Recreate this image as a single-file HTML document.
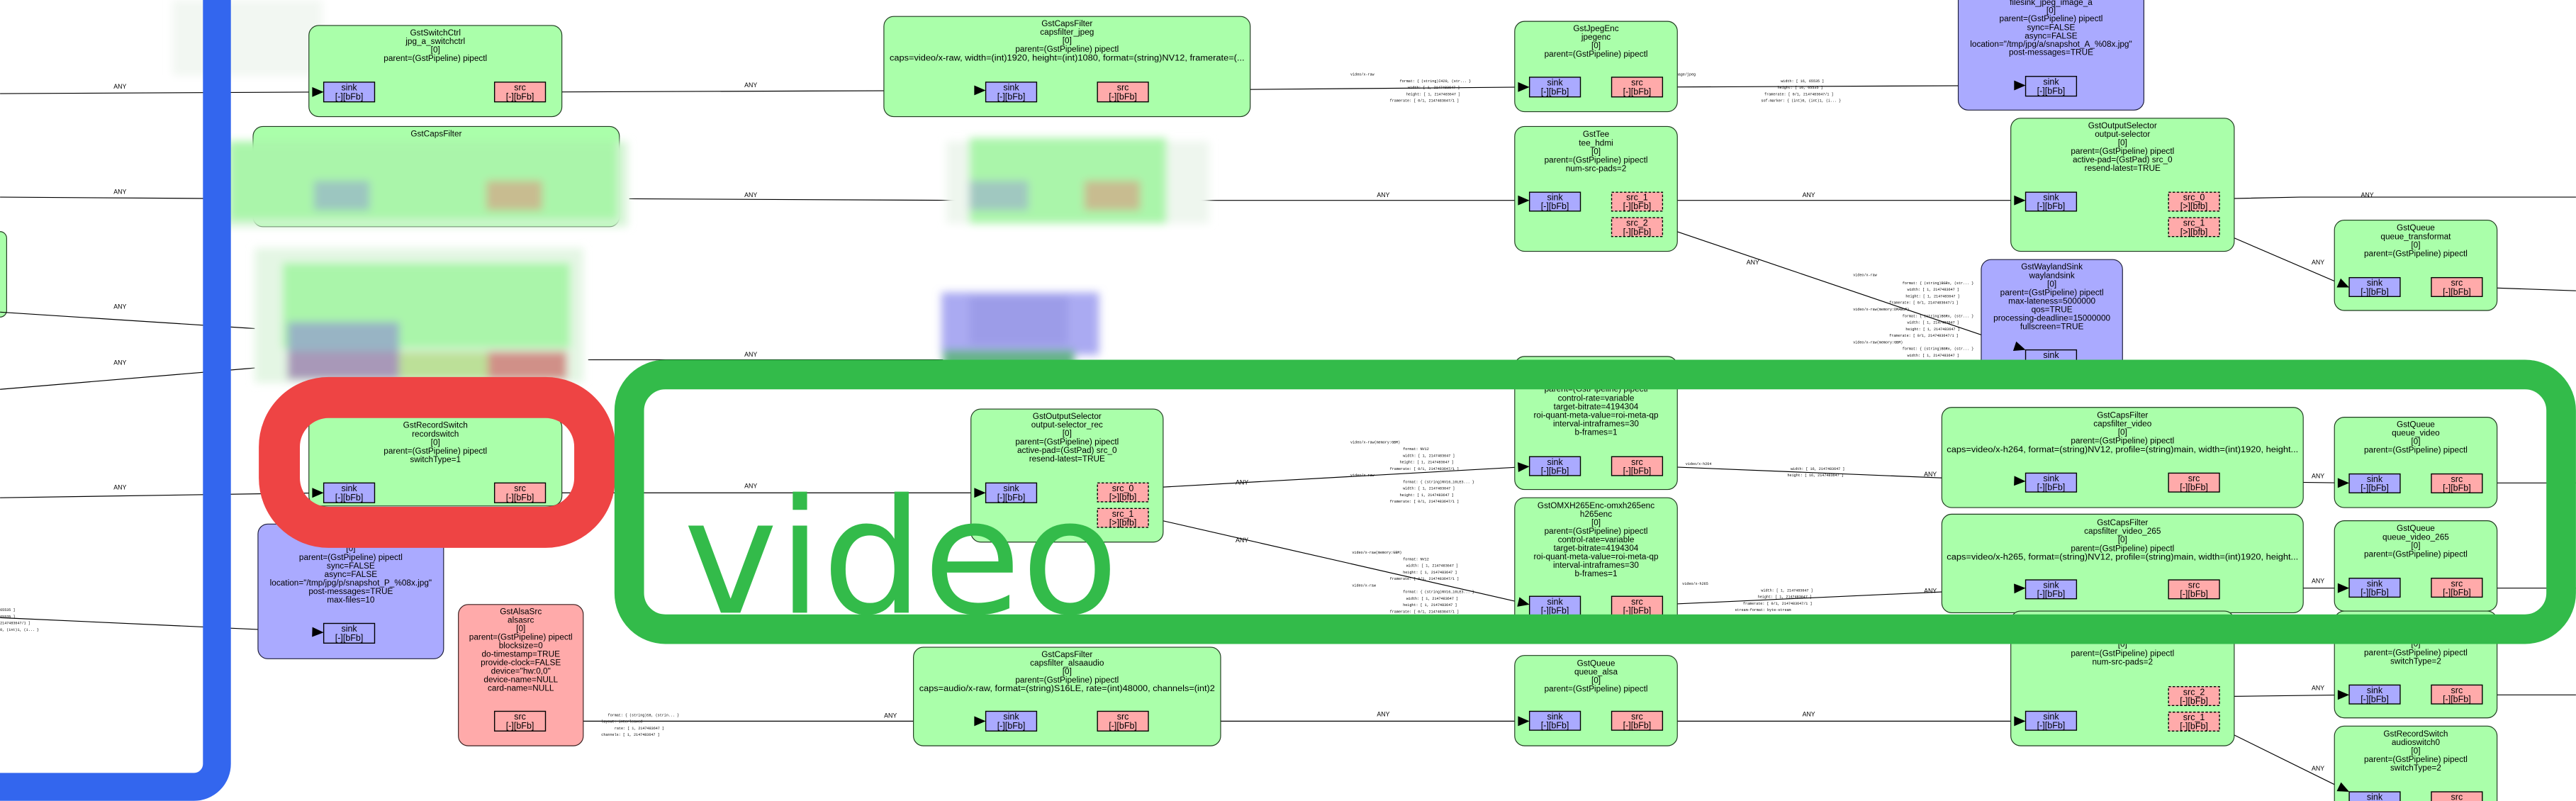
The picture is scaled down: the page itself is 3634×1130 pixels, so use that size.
<!DOCTYPE html>
<html><head><meta charset="utf-8"><style>
html,body{margin:0;padding:0;background:#fff;width:3634px;height:1130px;overflow:hidden}
svg{display:block}
.n{font-family:"Liberation Sans Narrow","Liberation Sans",sans-serif;font-size:5.1px;text-anchor:middle;fill:#000}
.p{font-family:"Liberation Sans Narrow","Liberation Sans",sans-serif;font-size:5.4px;text-anchor:middle;fill:#000}
.a{font-family:"Liberation Sans Narrow","Liberation Sans",sans-serif;font-size:3.8px;text-anchor:middle;fill:#000}
.c{font-family:"Liberation Mono",monospace;font-size:2.2px;fill:#000}
.g{fill:#aaffaa;stroke:#1e3a1e;stroke-width:0.5}
.b{fill:#aaaaff;stroke:#1e1e3a;stroke-width:0.5}
.r{fill:#ffaaaa;stroke:#3a1e1e;stroke-width:0.5}
.sk{fill:#aaaaff;stroke:#000;stroke-width:0.6}
.sr{fill:#ffaaaa;stroke:#000;stroke-width:0.6}
.sd{fill:#ffaaaa;stroke:#000;stroke-width:0.6;stroke-dasharray:1.5,1}
.e{stroke:#000;stroke-width:0.5;fill:none}
.e2{stroke:#000;stroke-width:0.5;fill:none}
</style></head><body>
<svg width="3634" height="1130" viewBox="0 0 1568 487.6" xmlns="http://www.w3.org/2000/svg">
<defs>
<filter id="bl" x="-10%" y="-10%" width="120%" height="120%"><feGaussianBlur stdDeviation="2.5"/></filter>
</defs>

<rect x="-10" y="141" width="14" height="52" rx="4" class="g"/>

<!-- EDGES -->
<path class="e" d="M0,57 L197,56"/><text class="a" x="73" y="54">ANY</text>
<path class="e" d="M332,56 L600,55"/><text class="a" x="457" y="53">ANY</text>
<path class="e" d="M699,55 L931,53"/><text class="a" x="757" y="56">ANY</text>
<path class="e" d="M1012,53 L1233,52"/><text class="a" x="1207" y="54">ANY</text>
<path class="e2" d="M0,120 L154,121"/><text class="a" x="73" y="118">ANY</text>
<path class="e2" d="M383,121 L590,122"/><text class="a" x="457" y="120">ANY</text>
<path class="e" d="M710,122 L931,122"/><text class="a" x="842" y="120">ANY</text>
<path class="e" d="M1012,122 L1233,122"/><text class="a" x="1101" y="120">ANY</text>
<path class="e2" d="M1351,121 L1400,120 L1568,120"/><text class="a" x="1441" y="120">ANY</text>
<path class="e" d="M1351,141 L1430,175"/><text class="a" x="1411" y="161">ANY</text>
<path class="e2" d="M1511,175 L1568,177"/>
<path class="e" d="M1012,138 L1233,213"/><text class="a" x="1067" y="161">ANY</text>
<path class="e2" d="M0,190 L155,200"/><text class="a" x="73" y="188">ANY</text>
<path class="e2" d="M0,237 L155,224"/><text class="a" x="73" y="222">ANY</text>
<path class="e2" d="M358,219 L574,219"/><text class="a" x="457" y="217">ANY</text>
<path class="e" d="M0,303 L197,300"/><text class="a" x="73" y="298">ANY</text>
<path class="e" d="M332,300 L600,300"/><text class="a" x="457" y="297">ANY</text>
<path class="e" d="M699,297 L931,284"/><text class="a" x="756" y="295">ANY</text>
<path class="e" d="M699,315 L931,368"/><text class="a" x="756" y="330">ANY</text>
<path class="e" d="M1012,284 L1233,293"/><text class="a" x="1175" y="290">ANY</text>
<path class="e" d="M1012,368 L1233,358"/><text class="a" x="1175" y="361">ANY</text>
<path class="e" d="M1351,293 L1430,294"/><text class="a" x="1411" y="291">ANY</text>
<path class="e2" d="M1511,294 L1568,294"/>
<path class="e" d="M1351,358 L1430,358"/><text class="a" x="1411" y="355">ANY</text>
<path class="e2" d="M1511,358 L1568,358"/>
<path class="e" d="M0,376 L197,385"/>
<path class="e" d="M332,439 L600,439"/><text class="a" x="542" y="437">ANY</text>
<path class="e" d="M699,439 L931,439"/><text class="a" x="842" y="436">ANY</text>
<path class="e" d="M1012,439 L1233,439"/><text class="a" x="1101" y="436">ANY</text>
<path class="e" d="M1351,424 L1430,423"/><text class="a" x="1411" y="420">ANY</text>
<path class="e2" d="M1511,423 L1568,423"/>
<path class="e" d="M1351,443 L1430,482"/><text class="a" x="1411" y="469">ANY</text>

<!-- caps labels -->
<text class="c" x="822" y="46">video/x-raw</text>
<text class="c" x="852" y="50">format: { (string)I420, (str... }</text>
<text class="c" x="857" y="54">width: [ 1, 2147483647 ]</text>
<text class="c" x="856" y="58">height: [ 1, 2147483647 ]</text>
<text class="c" x="846" y="62">framerate: [ 0/1, 2147483647/1 ]</text>
<text class="c" x="1019" y="46">image/jpeg</text>
<text class="c" x="1084" y="50">width: [ 16, 65535 ]</text>
<text class="c" x="1082" y="54">height: [ 16, 65535 ]</text>
<text class="c" x="1074" y="58">framerate: [ 0/1, 2147483647/1 ]</text>
<text class="c" x="1072" y="62">sof-marker: { (int)0, (int)1, (i... }</text>
<text class="c" x="1128" y="168">video/x-raw</text>
<text class="c" x="1158" y="173">format: { (string)BGRx, (str... }</text>
<text class="c" x="1161" y="177">width: [ 1, 2147483647 ]</text>
<text class="c" x="1160" y="181">height: [ 1, 2147483647 ]</text>
<text class="c" x="1150" y="185">framerate: [ 0/1, 2147483647/1 ]</text>
<text class="c" x="1128" y="189">video/x-raw(memory:DMABuf)</text>
<text class="c" x="1158" y="193">format: { (string)BGRx, (str... }</text>
<text class="c" x="1161" y="197">width: [ 1, 2147483647 ]</text>
<text class="c" x="1160" y="201">height: [ 1, 2147483647 ]</text>
<text class="c" x="1150" y="205">framerate: [ 0/1, 2147483647/1 ]</text>
<text class="c" x="1128" y="209">video/x-raw(memory:GBM)</text>
<text class="c" x="1158" y="213">format: { (string)BGRx, (str... }</text>
<text class="c" x="1161" y="217">width: [ 1, 2147483647 ]</text>
<text class="c" x="822" y="270">video/x-raw(memory:GBM)</text>
<text class="c" x="854" y="274">format: NV12</text>
<text class="c" x="854" y="278">width: [ 1, 2147483647 ]</text>
<text class="c" x="852" y="282">height: [ 1, 2147483647 ]</text>
<text class="c" x="846" y="286">framerate: [ 0/1, 2147483647/1 ]</text>
<text class="c" x="822" y="290">video/x-raw</text>
<text class="c" x="854" y="294">format: { (string)NV16_10LE3... }</text>
<text class="c" x="854" y="298">width: [ 1, 2147483647 ]</text>
<text class="c" x="852" y="302">height: [ 1, 2147483647 ]</text>
<text class="c" x="846" y="306">framerate: [ 0/1, 2147483647/1 ]</text>
<text class="c" x="1026" y="283">video/x-h264</text>
<text class="c" x="1090" y="286">width: [ 16, 2147483647 ]</text>
<text class="c" x="1088" y="290">height: [ 16, 2147483647 ]</text>
<text class="c" x="823" y="337">video/x-raw(memory:GBM)</text>
<text class="c" x="854" y="341">format: NV12</text>
<text class="c" x="856" y="345">width: [ 1, 2147483647 ]</text>
<text class="c" x="854" y="349">height: [ 1, 2147483647 ]</text>
<text class="c" x="846" y="353">framerate: [ 0/1, 2147483647/1 ]</text>
<text class="c" x="823" y="357">video/x-raw</text>
<text class="c" x="854" y="361">format: { (string)NV16_10LE3... }</text>
<text class="c" x="856" y="365">width: [ 1, 2147483647 ]</text>
<text class="c" x="854" y="369">height: [ 1, 2147483647 ]</text>
<text class="c" x="846" y="373">framerate: [ 0/1, 2147483647/1 ]</text>
<text class="c" x="1024" y="356">video/x-h265</text>
<text class="c" x="1072" y="360">width: [ 1, 2147483647 ]</text>
<text class="c" x="1070" y="364">height: [ 1, 2147483647 ]</text>
<text class="c" x="1061" y="368">framerate: [ 0/1, 2147483647/1 ]</text>
<text class="c" x="1056" y="372">stream-format: byte-stream</text>
<text class="c" x="340" y="432">audio/x-raw</text>
<text class="c" x="370" y="436">format: { (string)S8, (strin... }</text>
<text class="c" x="366" y="440">layout: interleaved</text>
<text class="c" x="374" y="444">rate: [ 1, 2147483647 ]</text>
<text class="c" x="366" y="448">channels: [ 1, 2147483647 ]</text>
<text class="c" x="0" y="372">65535 ]</text>
<text class="c" x="0" y="376">65535 ]</text>
<text class="c" x="0" y="380">2147483647/1 ]</text>
<text class="c" x="0" y="384">0, (int)1, (i... }</text>

<!-- NODES -->
<rect x="105" y="0" width="91" height="46" fill="#f2f7f2" filter="url(#bl)"/>

<rect class="g" x="188" y="15.5" width="154" height="55.5" rx="6"/>
<text class="n" x="265" y="21.5">GstSwitchCtrl</text><text class="n" x="265" y="26.8">jpg_a_switchctrl</text><text class="n" x="265" y="32">[0]</text><text class="n" x="265" y="37.2">parent=(GstPipeline) pipectl</text>
<rect class="sk" x="197" y="50" width="31" height="12"/><text class="p" x="212.5" y="55">sink</text><text class="p" x="212.5" y="60.6">[-][bFb]</text>
<rect class="sr" x="301" y="50" width="31" height="12"/><text class="p" x="316.5" y="55">src</text><text class="p" x="316.5" y="60.6">[-][bFb]</text>

<rect class="g" x="538" y="10" width="223" height="61" rx="6"/>
<text class="n" x="649.5" y="16">GstCapsFilter</text><text class="n" x="649.5" y="21.2">capsfilter_jpeg</text><text class="n" x="649.5" y="26.4">[0]</text><text class="n" x="649.5" y="31.6">parent=(GstPipeline) pipectl</text><text class="n" x="649.5" y="36.8" textLength="216" lengthAdjust="spacingAndGlyphs">caps=video/x-raw, width=(int)1920, height=(int)1080, format=(string)NV12, framerate=(...</text>
<rect class="sk" x="600" y="50" width="31" height="12"/><text class="p" x="615.5" y="55">sink</text><text class="p" x="615.5" y="60.6">[-][bFb]</text>
<rect class="sr" x="668" y="50" width="31" height="12"/><text class="p" x="683.5" y="55">src</text><text class="p" x="683.5" y="60.6">[-][bFb]</text>

<rect class="g" x="922" y="13" width="99" height="55" rx="6"/>
<text class="n" x="971.5" y="19">GstJpegEnc</text><text class="n" x="971.5" y="24.2">jpegenc</text><text class="n" x="971.5" y="29.4">[0]</text><text class="n" x="971.5" y="34.6">parent=(GstPipeline) pipectl</text>
<rect class="sk" x="931" y="47" width="31" height="12"/><text class="p" x="946.5" y="52">sink</text><text class="p" x="946.5" y="57.6">[-][bFb]</text>
<rect class="sr" x="981" y="47" width="31" height="12"/><text class="p" x="996.5" y="52">src</text><text class="p" x="996.5" y="57.6">[-][bFb]</text>

<rect class="b" x="1192" y="-10" width="113" height="77" rx="6"/>
<text class="n" x="1248.5" y="3">filesink_jpeg_image_a</text><text class="n" x="1248.5" y="8">[0]</text><text class="n" x="1248.5" y="13">parent=(GstPipeline) pipectl</text><text class="n" x="1248.5" y="18.3">sync=FALSE</text><text class="n" x="1248.5" y="23.5">async=FALSE</text><text class="n" x="1248.5" y="28.5">location="/tmp/jpg/a/snapshot_A_%08x.jpg"</text><text class="n" x="1248.5" y="33.5">post-messages=TRUE</text>
<rect class="sk" x="1233" y="46.5" width="31" height="12"/><text class="p" x="1248.5" y="51.5">sink</text><text class="p" x="1248.5" y="57.1">[-][bFb]</text>

<rect class="g" x="922" y="77" width="99" height="76" rx="6"/>
<text class="n" x="971.5" y="83.3">GstTee</text><text class="n" x="971.5" y="88.6">tee_hdmi</text><text class="n" x="971.5" y="93.8">[0]</text><text class="n" x="971.5" y="99">parent=(GstPipeline) pipectl</text><text class="n" x="971.5" y="104.2">num-src-pads=2</text>
<rect class="sk" x="931" y="117" width="31" height="11.5"/><text class="p" x="946.5" y="122">sink</text><text class="p" x="946.5" y="127.4">[-][bFb]</text>
<rect class="sd" x="981" y="117" width="31" height="11.5"/><text class="p" x="996.5" y="122">src_1</text><text class="p" x="996.5" y="127.4">[-][bFb]</text>
<rect class="sd" x="981" y="132.5" width="31" height="11.5"/><text class="p" x="996.5" y="137.5">src_2</text><text class="p" x="996.5" y="143">[-][bFb]</text>

<rect class="g" x="1224" y="72" width="136" height="81" rx="6"/>
<text class="n" x="1292" y="78">GstOutputSelector</text><text class="n" x="1292" y="83.3">output-selector</text><text class="n" x="1292" y="88.5">[0]</text><text class="n" x="1292" y="93.7">parent=(GstPipeline) pipectl</text><text class="n" x="1292" y="98.9">active-pad=(GstPad) src_0</text><text class="n" x="1292" y="104.1">resend-latest=TRUE</text>
<rect class="sk" x="1233" y="117" width="31" height="11.5"/><text class="p" x="1248.5" y="122">sink</text><text class="p" x="1248.5" y="127.4">[-][bFb]</text>
<rect class="sd" x="1320" y="117" width="31" height="11.5"/><text class="p" x="1335.5" y="122">src_0</text><text class="p" x="1335.5" y="127.4">[&gt;][bfb]</text>
<rect class="sd" x="1320" y="132.5" width="31" height="11.5"/><text class="p" x="1335.5" y="137.5">src_1</text><text class="p" x="1335.5" y="143">[&gt;][bfb]</text>

<rect class="g" x="1421" y="134" width="99" height="55" rx="6"/>
<text class="n" x="1470.5" y="140.3">GstQueue</text><text class="n" x="1470.5" y="145.6">queue_transformat</text><text class="n" x="1470.5" y="150.8">[0]</text><text class="n" x="1470.5" y="156">parent=(GstPipeline) pipectl</text>
<rect class="sk" x="1430" y="169" width="31" height="11.5"/><text class="p" x="1445.5" y="174">sink</text><text class="p" x="1445.5" y="179.4">[-][bFb]</text>
<rect class="sr" x="1480" y="169" width="31" height="11.5"/><text class="p" x="1495.5" y="174">src</text><text class="p" x="1495.5" y="179.4">[-][bFb]</text>

<rect class="b" x="1206" y="158" width="86" height="75" rx="6"/>
<text class="n" x="1249" y="164">GstWaylandSink</text><text class="n" x="1249" y="169.3">waylandsink</text><text class="n" x="1249" y="174.5">[0]</text><text class="n" x="1249" y="179.7">parent=(GstPipeline) pipectl</text><text class="n" x="1249" y="184.9">max-lateness=5000000</text><text class="n" x="1249" y="190.1">qos=TRUE</text><text class="n" x="1249" y="195.3">processing-deadline=15000000</text><text class="n" x="1249" y="200.5">fullscreen=TRUE</text>
<rect class="sk" x="1233" y="213" width="31" height="11.5"/><text class="p" x="1248.5" y="218">sink</text>

<rect class="g" x="922" y="217" width="99" height="81" rx="6"/>
<text class="n" x="971.5" y="223">GstOMXH264Enc-omxh264enc</text><text class="n" x="971.5" y="228">h264enc</text><text class="n" x="971.5" y="233">[0]</text><text class="n" x="971.5" y="238.5">parent=(GstPipeline) pipectl</text><text class="n" x="971.5" y="244">control-rate=variable</text><text class="n" x="971.5" y="249.2">target-bitrate=4194304</text><text class="n" x="971.5" y="254.4">roi-quant-meta-value=roi-meta-qp</text><text class="n" x="971.5" y="259.6">interval-intraframes=30</text><text class="n" x="971.5" y="264.8">b-frames=1</text>
<rect class="sk" x="931" y="278" width="31" height="11.5"/><text class="p" x="946.5" y="283">sink</text><text class="p" x="946.5" y="288.4">[-][bFb]</text>
<rect class="sr" x="981" y="278" width="31" height="11.5"/><text class="p" x="996.5" y="283">src</text><text class="p" x="996.5" y="288.4">[-][bFb]</text>

<rect class="g" x="922" y="303" width="99" height="82" rx="6"/>
<text class="n" x="971.5" y="309.3">GstOMXH265Enc-omxh265enc</text><text class="n" x="971.5" y="314.5">h265enc</text><text class="n" x="971.5" y="319.7">[0]</text><text class="n" x="971.5" y="324.9">parent=(GstPipeline) pipectl</text><text class="n" x="971.5" y="330.1">control-rate=variable</text><text class="n" x="971.5" y="335.3">target-bitrate=4194304</text><text class="n" x="971.5" y="340.5">roi-quant-meta-value=roi-meta-qp</text><text class="n" x="971.5" y="345.7">interval-intraframes=30</text><text class="n" x="971.5" y="350.9">b-frames=1</text>
<rect class="sk" x="931" y="363" width="31" height="11.5"/><text class="p" x="946.5" y="368">sink</text><text class="p" x="946.5" y="373.4">[-][bFb]</text>
<rect class="sr" x="981" y="363" width="31" height="11.5"/><text class="p" x="996.5" y="368">src</text><text class="p" x="996.5" y="373.4">[-][bFb]</text>

<rect class="g" x="1182" y="248" width="220" height="61" rx="6"/>
<text class="n" x="1292" y="254.3">GstCapsFilter</text><text class="n" x="1292" y="259.5">capsfilter_video</text><text class="n" x="1292" y="264.8">[0]</text><text class="n" x="1292" y="270">parent=(GstPipeline) pipectl</text><text class="n" x="1292" y="275.2" textLength="214" lengthAdjust="spacingAndGlyphs">caps=video/x-h264, format=(string)NV12, profile=(string)main, width=(int)1920, height...</text>
<rect class="sk" x="1233" y="288" width="31" height="11.5"/><text class="p" x="1248.5" y="293">sink</text><text class="p" x="1248.5" y="298.4">[-][bFb]</text>
<rect class="sr" x="1320" y="288" width="31" height="11.5"/><text class="p" x="1335.5" y="293">src</text><text class="p" x="1335.5" y="298.4">[-][bFb]</text>

<rect class="g" x="1182" y="313" width="220" height="60" rx="6"/>
<text class="n" x="1292" y="319.8">GstCapsFilter</text><text class="n" x="1292" y="325">capsfilter_video_265</text><text class="n" x="1292" y="330.2">[0]</text><text class="n" x="1292" y="335.4">parent=(GstPipeline) pipectl</text><text class="n" x="1292" y="340.6" textLength="214" lengthAdjust="spacingAndGlyphs">caps=video/x-h265, format=(string)NV12, profile=(string)main, width=(int)1920, height...</text>
<rect class="sk" x="1233" y="353" width="31" height="11.5"/><text class="p" x="1248.5" y="358">sink</text><text class="p" x="1248.5" y="363.4">[-][bFb]</text>
<rect class="sr" x="1320" y="353" width="31" height="11.5"/><text class="p" x="1335.5" y="358">src</text><text class="p" x="1335.5" y="363.4">[-][bFb]</text>

<rect class="g" x="1421" y="254" width="99" height="55" rx="6"/>
<text class="n" x="1470.5" y="260">GstQueue</text><text class="n" x="1470.5" y="265.2">queue_video</text><text class="n" x="1470.5" y="270.4">[0]</text><text class="n" x="1470.5" y="275.6">parent=(GstPipeline) pipectl</text>
<rect class="sk" x="1430" y="288.5" width="31" height="11.5"/><text class="p" x="1445.5" y="293.5">sink</text><text class="p" x="1445.5" y="298.9">[-][bFb]</text>
<rect class="sr" x="1480" y="288.5" width="31" height="11.5"/><text class="p" x="1495.5" y="293.5">src</text><text class="p" x="1495.5" y="298.9">[-][bFb]</text>

<rect class="g" x="1421" y="317" width="99" height="55" rx="6"/>
<text class="n" x="1470.5" y="323.3">GstQueue</text><text class="n" x="1470.5" y="328.5">queue_video_265</text><text class="n" x="1470.5" y="333.7">[0]</text><text class="n" x="1470.5" y="338.9">parent=(GstPipeline) pipectl</text>
<rect class="sk" x="1430" y="352" width="31" height="11.5"/><text class="p" x="1445.5" y="357">sink</text><text class="p" x="1445.5" y="362.4">[-][bFb]</text>
<rect class="sr" x="1480" y="352" width="31" height="11.5"/><text class="p" x="1495.5" y="357">src</text><text class="p" x="1495.5" y="362.4">[-][bFb]</text>

<rect class="g" x="922" y="399" width="99" height="55" rx="6"/>
<text class="n" x="971.5" y="405.3">GstQueue</text><text class="n" x="971.5" y="410.5">queue_alsa</text><text class="n" x="971.5" y="415.7">[0]</text><text class="n" x="971.5" y="420.9">parent=(GstPipeline) pipectl</text>
<rect class="sk" x="931" y="433" width="31" height="11.5"/><text class="p" x="946.5" y="438">sink</text><text class="p" x="946.5" y="443.4">[-][bFb]</text>
<rect class="sr" x="981" y="433" width="31" height="11.5"/><text class="p" x="996.5" y="438">src</text><text class="p" x="996.5" y="443.4">[-][bFb]</text>

<rect class="g" x="1224" y="372" width="136" height="82" rx="6"/>
<text class="n" x="1292" y="378">GstTee</text><text class="n" x="1292" y="383.5">tee_audio</text><text class="n" x="1292" y="393.8">[0]</text><text class="n" x="1292" y="399.4">parent=(GstPipeline) pipectl</text><text class="n" x="1292" y="404.6">num-src-pads=2</text>
<rect class="sk" x="1233" y="433" width="31" height="11.5"/><text class="p" x="1248.5" y="438">sink</text><text class="p" x="1248.5" y="443.4">[-][bFb]</text>
<rect class="sd" x="1320" y="418" width="31" height="11.5"/><text class="p" x="1335.5" y="423">src_2</text><text class="p" x="1335.5" y="428.4">[-][bFb]</text>
<rect class="sd" x="1320" y="433.5" width="31" height="11.5"/><text class="p" x="1335.5" y="438.5">src_1</text><text class="p" x="1335.5" y="443.9">[-][bFb]</text>

<rect class="g" x="1421" y="372" width="99" height="65" rx="6"/>
<text class="n" x="1470.5" y="393.5">[0]</text><text class="n" x="1470.5" y="399">parent=(GstPipeline) pipectl</text><text class="n" x="1470.5" y="404.2">switchType=2</text>
<rect class="sk" x="1430" y="417" width="31" height="11.5"/><text class="p" x="1445.5" y="422">sink</text><text class="p" x="1445.5" y="427.4">[-][bFb]</text>
<rect class="sr" x="1480" y="417" width="31" height="11.5"/><text class="p" x="1495.5" y="422">src</text><text class="p" x="1495.5" y="427.4">[-][bFb]</text>

<rect class="g" x="1421" y="442" width="99" height="60" rx="6"/>
<text class="n" x="1470.5" y="448.3">GstRecordSwitch</text><text class="n" x="1470.5" y="453.5">audioswitch0</text><text class="n" x="1470.5" y="458.7">[0]</text><text class="n" x="1470.5" y="463.9">parent=(GstPipeline) pipectl</text><text class="n" x="1470.5" y="469.1">switchType=2</text>
<rect class="sk" x="1430" y="482" width="31" height="11.5"/><text class="p" x="1445.5" y="487">sink</text>
<rect class="sr" x="1480" y="482" width="31" height="11.5"/><text class="p" x="1495.5" y="487">src</text>

<rect class="g" x="188" y="254" width="154" height="54" rx="6"/>
<text class="n" x="265" y="260.5">GstRecordSwitch</text><text class="n" x="265" y="265.8">recordswitch</text><text class="n" x="265" y="271">[0]</text><text class="n" x="265" y="276.2">parent=(GstPipeline) pipectl</text><text class="n" x="265" y="281.4">switchType=1</text>
<rect class="sk" x="197" y="294" width="31" height="12"/><text class="p" x="212.5" y="299">sink</text><text class="p" x="212.5" y="304.6">[-][bFb]</text>
<rect class="sr" x="301" y="294" width="31" height="12"/><text class="p" x="316.5" y="299">src</text><text class="p" x="316.5" y="304.6">[-][bFb]</text>

<rect class="g" x="591" y="249" width="117" height="81" rx="6"/>
<text class="n" x="649.5" y="255">GstOutputSelector</text><text class="n" x="649.5" y="260.2">output-selector_rec</text><text class="n" x="649.5" y="265.4">[0]</text><text class="n" x="649.5" y="270.6">parent=(GstPipeline) pipectl</text><text class="n" x="649.5" y="275.8">active-pad=(GstPad) src_0</text><text class="n" x="649.5" y="281">resend-latest=TRUE</text>
<rect class="sk" x="600" y="294" width="31" height="12"/><text class="p" x="615.5" y="299">sink</text><text class="p" x="615.5" y="304.6">[-][bFb]</text>
<rect class="sd" x="668" y="294" width="31" height="11.5"/><text class="p" x="683.5" y="299">src_0</text><text class="p" x="683.5" y="304.4">[&gt;][bfb]</text>
<rect class="sd" x="668" y="309.5" width="31" height="11.5"/><text class="p" x="683.5" y="314.5">src_1</text><text class="p" x="683.5" y="319.9">[&gt;][bfb]</text>

<rect class="b" x="157" y="319" width="113" height="82" rx="6"/>
<text class="n" x="213.5" y="335.5">[0]</text><text class="n" x="213.5" y="340.8">parent=(GstPipeline) pipectl</text><text class="n" x="213.5" y="346">sync=FALSE</text><text class="n" x="213.5" y="351.2">async=FALSE</text><text class="n" x="213.5" y="356.4">location="/tmp/jpg/p/snapshot_P_%08x.jpg"</text><text class="n" x="213.5" y="361.6">post-messages=TRUE</text><text class="n" x="213.5" y="366.8">max-files=10</text>
<rect class="sk" x="197" y="379.5" width="31" height="12"/><text class="p" x="212.5" y="384.5">sink</text><text class="p" x="212.5" y="390.1">[-][bFb]</text>

<rect class="r" x="279" y="368" width="76" height="86" rx="6"/>
<text class="n" x="317" y="373.8">GstAlsaSrc</text><text class="n" x="317" y="379">alsasrc</text><text class="n" x="317" y="384.2">[0]</text><text class="n" x="317" y="389.4">parent=(GstPipeline) pipectl</text><text class="n" x="317" y="394.6">blocksize=0</text><text class="n" x="317" y="399.8">do-timestamp=TRUE</text><text class="n" x="317" y="405">provide-clock=FALSE</text><text class="n" x="317" y="410.2">device="hw:0,0"</text><text class="n" x="317" y="415.4">device-name=NULL</text><text class="n" x="317" y="420.6">card-name=NULL</text>
<rect class="sr" x="301" y="433" width="31" height="12"/><text class="p" x="316.5" y="438">src</text><text class="p" x="316.5" y="443.6">[-][bFb]</text>

<rect class="g" x="556" y="394" width="187" height="60" rx="6"/>
<text class="n" x="649.5" y="400">GstCapsFilter</text><text class="n" x="649.5" y="405.2">capsfilter_alsaaudio</text><text class="n" x="649.5" y="410.4">[0]</text><text class="n" x="649.5" y="415.6">parent=(GstPipeline) pipectl</text><text class="n" x="649.5" y="420.8" textLength="180" lengthAdjust="spacingAndGlyphs">caps=audio/x-raw, format=(string)S16LE, rate=(int)48000, channels=(int)2</text>
<rect class="sk" x="600" y="433" width="31" height="12"/><text class="p" x="615.5" y="438">sink</text><text class="p" x="615.5" y="443.6">[-][bFb]</text>
<rect class="sr" x="668" y="433" width="31" height="12"/><text class="p" x="683.5" y="438">src</text><text class="p" x="683.5" y="443.6">[-][bFb]</text>

<!-- ARROWHEADS (drawn after nodes) -->
<g fill="#000" stroke="none">
<path d="M190,53 L197,56 L190,59 Z"/>
<path d="M593,52 L600,55 L593,58 Z"/>
<path d="M924,50 L931,53 L924,56 Z"/>
<path d="M1226,49 L1233,52 L1226,55 Z"/>
<path d="M924,119 L931,122 L924,125 Z"/>
<path d="M1226,119 L1233,122 L1226,125 Z"/>
<path d="M1422.4,175 L1430,175 L1424.8,169.5 Z"/>
<path d="M1225.4,213.6 L1233,213 L1227.3,207.9 Z"/>
<path d="M190,297 L197,300 L190,303 Z"/>
<path d="M593,297 L600,300 L593,303 Z"/>
<path d="M924.2,287.4 L931,284 L923.8,281.4 Z"/>
<path d="M923.5,369.3 L931,368 L924.9,363.5 Z"/>
<path d="M1225.9,295.7 L1233,293 L1226.1,289.7 Z"/>
<path d="M1226.1,361.3 L1233,358 L1225.9,355.3 Z"/>
<path d="M1423,291 L1430,294 L1423,297 Z"/>
<path d="M1423,355 L1430,358 L1423,361 Z"/>
<path d="M189.9,387.7 L197,385 L190.1,381.7 Z"/>
<path d="M593,436 L600,439 L593,442 Z"/>
<path d="M924,436 L931,439 L924,442 Z"/>
<path d="M1226,436 L1233,439 L1226,442 Z"/>
<path d="M1423,420 L1430,423 L1423,426 Z"/>
<path d="M1422.4,481.6 L1430,482 L1425,476.2 Z"/>
</g>

<!-- BLURRED REGIONS -->
<rect class="g" x="154" y="77" width="223" height="61" rx="6"/>
<text class="n" x="265.5" y="83">GstCapsFilter</text>
<g filter="url(#bl)">
<rect x="130" y="86" width="252" height="52" fill="#d8f4d8"/>
<rect x="140" y="86" width="236" height="48" fill="#aaf5aa"/>
<rect x="191" y="110" width="34" height="18" fill="#9cc6c0"/>
<rect x="296" y="110" width="34" height="18" fill="#c8bc90"/>
</g>
<g filter="url(#bl)">
<rect x="576" y="86" width="160" height="50" fill="#eef6ee"/>
<rect x="590" y="84" width="120" height="52" fill="#aaf5aa"/>
<rect x="590" y="110" width="36" height="18" fill="#a0c8c0"/>
<rect x="660" y="110" width="34" height="18" fill="#c8bc90"/>
</g>
<g filter="url(#bl)">
<rect x="155" y="151" width="200" height="82" fill="#e4f6e4"/>
<rect x="172" y="160" width="175" height="52" fill="#aaf5aa"/>
<rect x="175" y="196" width="68" height="19" fill="#98b4c4"/>
<rect x="175" y="214" width="68" height="17" fill="#a898b8"/>
<rect x="243" y="214" width="54" height="17" fill="#bce098"/>
<rect x="297" y="214" width="48" height="17" fill="#d09088"/>
</g>
<g filter="url(#bl)">
<rect x="573" y="178" width="96" height="38" fill="#aaaaf2"/>
<rect x="590" y="180" width="60" height="30" fill="#9c9ce8"/>
<rect x="574" y="213" width="80" height="17" fill="#66b488"/>
</g>

<!-- BIG OVERLAYS -->
<rect x="-300" y="-40" width="432" height="519" rx="14" fill="none" stroke="#3366ee" stroke-width="17"/>
<rect x="170" y="242" width="192" height="79" rx="30" fill="none" stroke="#ee4444" stroke-width="25"/>
<rect x="383" y="228" width="1176" height="155" rx="22" fill="none" stroke="#33bb4a" stroke-width="18"/>
<text x="416" y="373" font-family="DejaVu Sans, sans-serif" font-size="97" fill="#33bb4a">video</text>
</svg>
</body></html>
